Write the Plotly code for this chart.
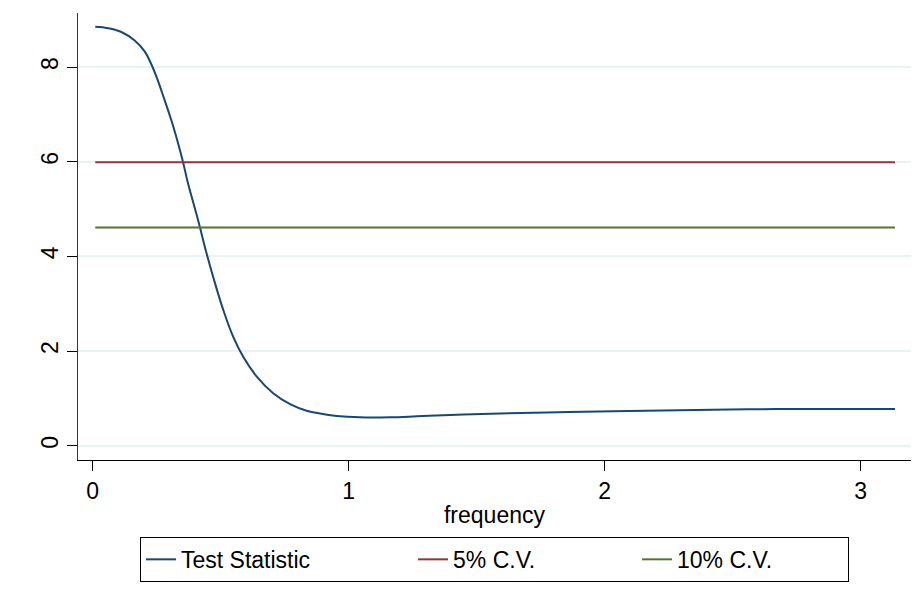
import plotly.graph_objects as go

freq = [0.010, 0.060, 0.112, 0.164, 0.203, 0.229, 0.255, 0.281, 0.307, 0.333,
        0.353, 0.372, 0.411, 0.445, 0.478, 0.510, 0.549, 0.588, 0.641, 0.705,
        0.771, 0.836, 0.888, 0.953, 1.044, 1.161, 1.266, 1.396, 1.591, 1.773,
        2.034, 2.290, 2.555, 2.810, 3.134]
stat = [8.85, 8.82, 8.74, 8.56, 8.33, 8.06, 7.71, 7.30, 6.88, 6.40,
        5.99, 5.55, 4.78, 4.06, 3.43, 2.87, 2.30, 1.88, 1.46, 1.11,
        0.88, 0.74, 0.68, 0.63, 0.60, 0.60, 0.62, 0.65, 0.68, 0.70,
        0.73, 0.75, 0.77, 0.775, 0.775]
cv5 = 5.99
cv10 = 4.61

x_ticks = [0, 1, 2, 3]
y_ticks = [0, 2, 4, 6, 8]

font_family = "Liberation Sans, Arial, sans-serif"

fig = go.Figure()
fig.add_trace(go.Scatter(x=freq, y=stat, mode="lines", name="Test Statistic",
                         legendwidth=227,
                         line=dict(color="#1a476f", width=2, shape="spline", smoothing=1.1)))
fig.add_trace(go.Scatter(x=[freq[0], freq[-1]], y=[cv5, cv5], mode="lines", name="5% C.V.",
                         legendwidth=179,
                         line=dict(color="#90353b", width=2)))
fig.add_trace(go.Scatter(x=[freq[0], freq[-1]], y=[cv10, cv10], mode="lines", name="10% C.V.",
                         legendwidth=166,
                         line=dict(color="#55752f", width=2)))

fig.update_layout(
    width=914, height=602,
    margin=dict(l=70, r=11, t=5, b=150),
    paper_bgcolor="white", plot_bgcolor="white",
    font=dict(family=font_family, size=23, color="black"),
    showlegend=True,
    legend=dict(orientation="h", x=0.5, xanchor="center", y=-0.172, yanchor="top",
                bordercolor="black", borderwidth=1, font=dict(size=23)),
)
fig.update_xaxes(
    range=[-0.0574, 3.1965], tickvals=x_ticks, ticktext=[str(v) for v in x_ticks],
    ticks="outside", ticklen=10, tickcolor="black", showgrid=False, zeroline=False,
    showline=True, linecolor="black", linewidth=1, tickfont=dict(size=23),
    title=dict(text="frequency", standoff=4, font=dict(size=23)),
)
fig.update_yaxes(
    range=[-0.302, 9.142], tickvals=y_ticks, ticktext=[str(v) for v in y_ticks],
    ticks="outside", ticklen=10, tickcolor="black", tickangle=-90, tickfont=dict(size=23),
    showgrid=True, gridcolor="#eaf2f3", gridwidth=2, zeroline=False,
    showline=True, linecolor="#333333", linewidth=1,
)

fig.write_html("out.html")
